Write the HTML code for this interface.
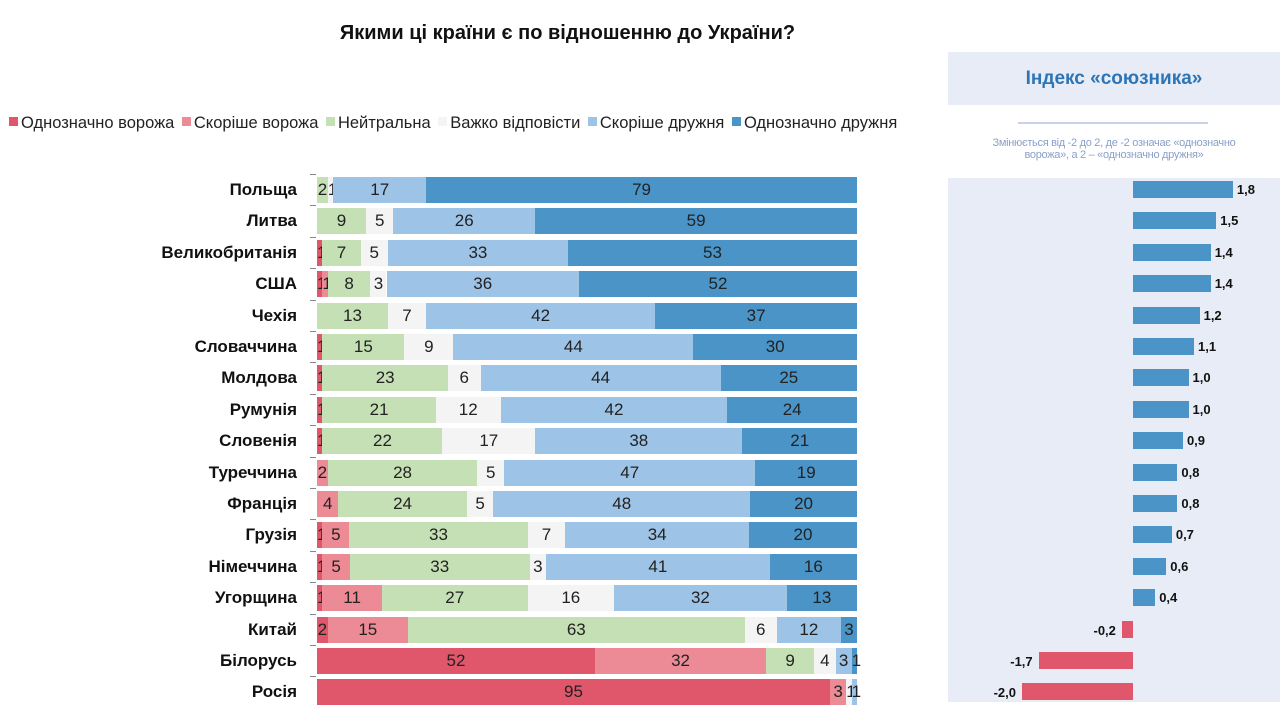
<!DOCTYPE html><html><head><meta charset="utf-8"><style>
body{margin:0;width:1280px;height:702px;background:#fff;font-family:"Liberation Sans",sans-serif;position:relative;overflow:hidden}
.a{position:absolute}
.t{left:0;width:1135px;top:22px;text-align:center;font-weight:bold;font-size:20px;color:#111}
.lg{top:114px;left:6px;font-size:16.5px;color:#222;white-space:nowrap}
.lg span{display:inline-block;width:9px;height:9px;margin:0 3px 0 3px;vertical-align:2px}
.lb{width:290px;left:7px;text-align:right;font-weight:bold;font-size:17px;color:#111}
.seg{height:26px;font-size:17px;text-align:center;line-height:26px;color:#222;overflow:visible;white-space:nowrap}
.ib{height:17px}
.iv{font-size:13px;font-weight:bold;color:#111}
</style></head><body>
<div class="a t">Якими ці країни є по відношенню до України?</div>
<div class="a lg"><span style="background:#e0566b"></span>Однозначно ворожа <span style="background:#ec8a96"></span>Скоріше ворожа <span style="background:#c5e0b4"></span>Нейтральна <span style="background:#f4f4f4"></span>Важко відповісти <span style="background:#9dc3e6"></span>Скоріше дружня <span style="background:#4a94c8"></span>Однозначно дружня</div>
<div class="a" style="left:948px;top:52px;width:332px;height:650px;background:#e8ecf6"></div>
<div class="a" style="left:948px;top:105px;width:332px;height:73px;background:#fff"></div>
<div class="a" style="left:948px;top:68px;width:332px;text-align:center;font-weight:bold;font-size:19px;color:#2e75b6">Індекс «союзника»</div>
<div class="a" style="left:1018px;top:122px;width:190px;height:2px;background:#c9d3e6"></div>
<div class="a" style="left:960px;top:137px;width:308px;text-align:center;font-size:11px;line-height:12px;color:#8aa0c8;letter-spacing:-0.3px">Змінюється від -2 до 2, де -2 означає «однозначно<br>ворожа», а 2 – «однозначно дружня»</div>
<div id="c"></div>
<script>
var d=[["Польща",0,0,2,1,17,79,1.8],["Литва",0,0,9,5,26,59,1.5],["Великобританія",1,0,7,5,33,53,1.4],["США",1,1,8,3,36,52,1.4],["Чехія",0,0,13,7,42,37,1.2],["Словаччина",1,0,15,9,44,30,1.1],["Молдова",1,0,23,6,44,25,1.0],["Румунія",1,0,21,12,42,24,1.0],["Словенія",1,0,22,17,38,21,0.9],["Туреччина",0,2,28,5,47,19,0.8],["Франція",0,4,24,5,48,20,0.8],["Грузія",1,5,33,7,34,20,0.7],["Німеччина",1,5,33,3,41,16,0.6],["Угорщина",1,11,27,16,32,13,0.4],["Китай",2,15,63,6,12,3,-0.2],["Білорусь",52,32,9,4,3,1,-1.7],["Росія",95,3,0,1,1,0,-2.0]];
var col=["#e0566b","#ec8a96","#c5e0b4","#f4f4f4","#9dc3e6","#4a94c8"];
var h="";
d.forEach(function(r,i){var cy=190+i*31.4;var s=0;for(var k=1;k<7;k++)s+=r[k];var x=317;
h+='<div class="a lb" style="top:'+(cy-10)+'px">'+r[0]+'</div>';
h+='<div class="a" style="left:310px;top:'+(cy-16)+'px;width:6px;height:1px;background:#888"></div>';
for(var k=1;k<7;k++){if(!r[k])continue;var w=r[k]/s*540;h+='<div class="a seg" style="left:'+x+'px;top:'+(cy-13)+'px;width:'+w+'px;background:'+col[k-1]+'">'+r[k]+'</div>';x+=w;}
var v=r[7],bw=Math.abs(v)*55.5,c=v>=0?"#4a94c8":"#e0566b";
var bx=v>=0?1133:1133-bw;
h+='<div class="a ib" style="left:'+bx+'px;top:'+(cy-9)+'px;width:'+bw+'px;background:'+c+'"></div>';
var txt=v.toFixed(1).replace(".",",");
if(v>=0)h+='<div class="a iv" style="left:'+(1133+bw+4)+'px;top:'+(cy-8)+'px">'+txt+'</div>';
else h+='<div class="a iv" style="left:'+(bx-42)+'px;width:36px;text-align:right;top:'+(cy-7)+'px">'+txt+'</div>';
});
document.getElementById("c").innerHTML=h;
</script>
</body></html>
